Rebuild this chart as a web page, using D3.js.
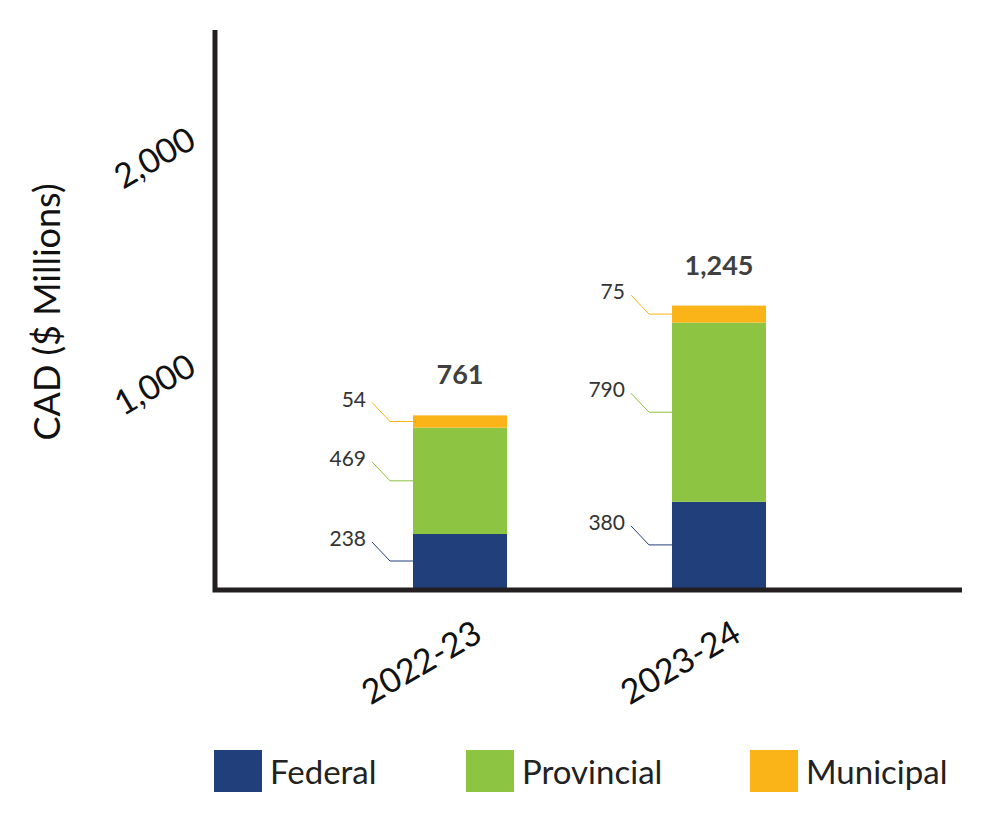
<!DOCTYPE html>
<html><head><meta charset="utf-8">
<script src="https://cdn.jsdelivr.net/npm/d3@7"></script>
<style>body{margin:0;background:#fff}</style></head>
<body><svg id="c" width="996" height="816"></svg>
<script>
const categories = ["2022-23","2023-24"];
const seriesNames = ["Federal","Provincial","Municipal"];
const federal = [238,380];
const provincial = [469,790];
const municipal = [54,75];
const totals = ["761","1,245"];
const yTicks = [1000,2000];
const yTickLabels = ["1,000","2,000"];
const colors = ["#213f7a","#8dc442","#fbb418"];

const svg = d3.select("#c");
const font = "Lato, 'Open Sans', sans-serif";
const y = d3.scaleLinear().domain([0,2460]).range([588,30]);
const x = d3.scaleBand().domain(categories).range([413,766]).paddingInner(0.637).paddingOuter(0);
const series = [federal,provincial,municipal];
const rows = categories.map((c,i)=>({cat:c,Federal:federal[i],Provincial:provincial[i],Municipal:municipal[i]}));
const stack = d3.stack().keys(seriesNames)(rows);

stack.forEach((layer,si)=>{
  layer.forEach((d,i)=>{
    const x0 = x(d.data.cat), bw = x.bandwidth();
    svg.append("rect").attr("x",x0).attr("width",bw)
      .attr("y",y(d[1])).attr("height",y(d[0])-y(d[1])).attr("fill",colors[si]);
    const mid = (y(d[0])+y(d[1]))/2;
    svg.append("path").attr("d",`M${x0-41},${mid-19}L${x0-23},${mid}L${x0},${mid}`)
      .attr("fill","none").attr("stroke",colors[si]).attr("stroke-width",1);
    svg.append("text").attr("x",x0-47).attr("y",mid-15).attr("text-anchor","end")
      .attr("font-family",font).attr("font-size",21).attr("fill","#333").text(series[si][i]);
  });
});
categories.forEach((c,i)=>{
  const tot = federal[i]+provincial[i]+municipal[i];
  svg.append("text").attr("x",x(c)+x.bandwidth()/2).attr("y",y(tot)-31).attr("text-anchor","middle")
    .attr("font-family",font).attr("font-weight","bold").attr("font-size",27).attr("fill","#404040").text(totals[i]);
  svg.append("text").attr("transform",`translate(${x(c)+x.bandwidth()/2+24},${640}) rotate(-30)`)
    .attr("text-anchor","end").attr("font-family",font).attr("font-size",34).attr("fill","#111").text(c);
});
yTicks.forEach((t,i)=>{
  svg.append("text").attr("transform",`translate(198,${y(t)+12}) rotate(-30)`)
    .attr("text-anchor","end").attr("font-family",font).attr("font-size",34).attr("fill","#111").text(yTickLabels[i]);
});
svg.append("path").attr("d","M215,30L215,590L962,590").attr("fill","none").attr("stroke","#231f20").attr("stroke-width",5);
svg.append("text").attr("transform","translate(60,312) rotate(-90)").attr("text-anchor","middle")
  .attr("font-family",font).attr("font-size",36).attr("fill","#111").text("CAD ($ Millions)");
const lx = [214,466,750];
seriesNames.forEach((n,i)=>{
  svg.append("rect").attr("x",lx[i]).attr("y",750).attr("width",48).attr("height",42).attr("fill",colors[i]);
  svg.append("text").attr("x",lx[i]+56).attr("y",784).attr("font-family",font).attr("font-size",33).attr("fill","#222").text(n);
});
</script></body></html>
